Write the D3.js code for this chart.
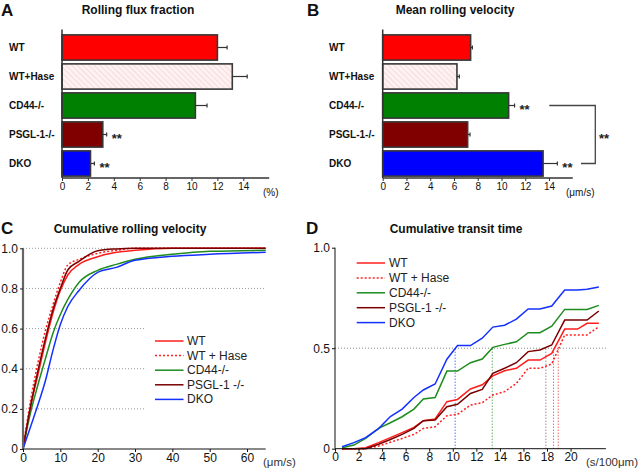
<!DOCTYPE html>
<html><head><meta charset="utf-8">
<script src="https://cdn.jsdelivr.net/npm/d3@7"></script>
<style>body{margin:0;background:#fff}svg{display:block;font-family:"Liberation Sans",Arial,sans-serif}</style>
</head><body>
<svg id="c" width="640" height="469"></svg>
<script>
// ---------- data ----------
const cats = ["WT","WT+Hase","CD44-/-","PSGL-1-/-","DKO"];
const fluxMean = [12.0,13.15,10.3,3.15,2.2];
const fluxErr  = [0.75,1.15,0.9,0.3,0.3];
const fluxStars = ["","","","**","**"];
const velMean = [7.4,6.25,10.6,7.15,13.5];
const velErr  = [0.15,0.2,0.5,0.2,1.2];
const velStars = ["","","**","","**"];
const barTicks = [0,2,4,6,8,10,12,14];

const seriesNames = ["WT","WT + Hase","CD44-/-","PSGL-1 -/-","DKO"];
const velX = [0,2,4,6,8,10,12,15,20,25,30,40,50,65];
const cWT   = [0,0.21,0.37,0.53,0.676,0.79,0.867,0.92,0.958,0.98,0.99,1.0,1.0,1.0];
const cHase = [0,0.24,0.43,0.59,0.717,0.83,0.917,0.945,0.975,0.99,1.0,1.0,1.0,1.0];
const cCD44 = [0,0.18,0.32,0.45,0.576,0.67,0.745,0.83,0.89,0.92,0.945,0.97,0.985,0.99];
const cPSGL = [0,0.21,0.39,0.55,0.693,0.8,0.892,0.935,0.988,0.997,1.0,1.0,1.0,1.0];
const cDKO  = [0,0.11,0.22,0.34,0.49,0.62,0.71,0.79,0.88,0.905,0.94,0.96,0.97,0.98];
const cYTicks = [0,0.2,0.4,0.6,0.8,1.0];
const cXTicks = [0,10,20,30,40,50,60];

const dX = [0.6,1.6,2.6,3.7,4.7,5.7,6.7,7.5,8.5,9.5,10.4,11.5,12.5,13.4,14.4,15.4,16.4,17.4,18.4,19.5,20.6,21.4,22.4];
const dWT   = [0,0,0.005,0.03,0.055,0.08,0.106,0.139,0.148,0.234,0.245,0.297,0.318,0.362,0.388,0.4,0.441,0.441,0.474,0.595,0.595,0.624,0.624];
const dHase = [0,0,0,0.013,0.032,0.051,0.071,0.101,0.109,0.164,0.171,0.217,0.229,0.267,0.284,0.325,0.4,0.4,0.421,0.566,0.566,0.566,0.607];
const dCD44 = [0.005,0.018,0.051,0.101,0.129,0.159,0.197,0.247,0.255,0.386,0.386,0.428,0.446,0.504,0.519,0.532,0.577,0.577,0.61,0.693,0.693,0.693,0.713];
const dPSGL = [0,0,0,0.022,0.046,0.071,0.101,0.139,0.143,0.209,0.221,0.275,0.295,0.375,0.4,0.428,0.483,0.491,0.516,0.64,0.64,0.64,0.685];
const dDKO  = [0.01,0.03,0.055,0.10,0.16,0.197,0.255,0.292,0.322,0.445,0.513,0.513,0.55,0.605,0.614,0.645,0.695,0.695,0.71,0.79,0.79,0.793,0.805];
const dMedian = [18.55,18.95,13.35,17.9,10.2];
const dYTicks = [0,0.5,1.0];
const dYLabels = ["0","0.5","1.0"];
const dXTicks = [0,2,4,6,8,10,12,14,16,18,20];

// ---------- styles ----------
const barFill = ["#ff0000","url(#hatch)","#008000","#800000","#0000ff"];
const lineCol = ["#ff1e1e","#ff1e1e","#1e8c1e","#7a0000","#1430ff"];
const lineDash = [null,"2,2",null,null,null];

const svg = d3.select("#c");
const defs = svg.append("defs");
const pat = defs.append("pattern").attr("id","hatch").attr("patternUnits","userSpaceOnUse")
  .attr("width",4).attr("height",4).attr("patternTransform","rotate(-45)");
pat.append("rect").attr("width",4).attr("height",4).attr("fill","#fdf1f1");
pat.append("line").attr("x1",0).attr("y1",0).attr("x2",0).attr("y2",4).attr("stroke","#efcfd0").attr("stroke-width",1.2);

function text(x,y,s,opt={}){
  return svg.append("text").attr("x",x).attr("y",y).text(s)
    .attr("font-size",opt.size||12).attr("font-weight",opt.bold?"bold":"normal")
    .attr("text-anchor",opt.anchor||"start").attr("fill",opt.fill||"#111")
    .attr("dominant-baseline",opt.mid?"central":"auto");
}

// ---------- bar panels ----------
function barPanel(x0, mean, err, stars, unit, letter, letterX, title, titleX, labX){
  const x = d3.scaleLinear().domain([0,16]).range([x0, x0+16*(unit)]);
  const y = d3.scaleBand().domain(cats).range([33,178]).paddingInner(0.13).paddingOuter(0.065);
  const g = svg.append("g");
  text(letterX,16,letter,{size:17,bold:true});
  text(titleX,14,title,{size:12,bold:true,anchor:"middle"});
  cats.forEach((c,i)=>{
    text(labX, y(c)+y.bandwidth()/2, c, {size:10,bold:true,mid:true});
  });
  g.selectAll("rect.bar").data(cats).join("rect")
    .attr("x",x(0)).attr("y",d=>y(d)).attr("width",(d,i)=>x(mean[i])-x(0))
    .attr("height",y.bandwidth()).attr("fill",(d,i)=>barFill[i])
    .attr("stroke","#383838").attr("stroke-width",1.6);
  cats.forEach((c,i)=>{
    const cy = y(c)+y.bandwidth()/2;
    g.append("line").attr("x1",x(mean[i])).attr("x2",x(mean[i]+err[i])).attr("y1",cy).attr("y2",cy)
      .attr("stroke","#333").attr("stroke-width",1.2);
    g.append("line").attr("x1",x(mean[i]+err[i])).attr("x2",x(mean[i]+err[i])).attr("y1",cy-2).attr("y2",cy+2)
      .attr("stroke","#333").attr("stroke-width",1.2);
    if(stars[i]) text(x(mean[i]+err[i])+5, cy+8, stars[i], {size:13,bold:true,fill:"#222"});
  });
  // axes
  g.append("line").attr("x1",x(0)).attr("x2",x(0)).attr("y1",29.5).attr("y2",178).attr("stroke","#333").attr("stroke-width",1.5);
  const ax = g.append("g").attr("transform","translate(0,178)")
    .call(d3.axisBottom(x).tickValues(barTicks).tickSize(3).tickFormat(d3.format("d")));
  ax.select(".domain").attr("stroke","#333").attr("stroke-width",1.5).attr("d",`M${x(0)},0H${x(16)}`);
  ax.selectAll(".tick line").attr("stroke","#333");
  ax.selectAll(".tick text").attr("font-size",10).attr("fill","#111").attr("font-family","Liberation Sans, Arial").attr("dy","0.6em");
  return {x,y,g};
}
barPanel(62, fluxMean, fluxErr, fluxStars, 12.95, "A", 1, "Rolling flux fraction", 138, 9);
text(263,196,"(%)",{size:10});
const B = barPanel(382.7, velMean, velErr, velStars, 11.88, "B", 307, "Mean rolling velocity", 455, 329);
text(566,196,"(μm/s)",{size:10});
// bracket between CD44 and DKO
{
  const yc = B.y("CD44-/-")+B.y.bandwidth()/2, yd = B.y("DKO")+B.y.bandwidth()/2;
  svg.append("path").attr("d",`M549.3,${yc}H595.3V${yd}H581`).attr("fill","none").attr("stroke","#444").attr("stroke-width",1.3);
  text(599, (yc+yd)/2+8, "**", {size:13,bold:true,fill:"#222"});
}

// ---------- panel C ----------
{
  const x = d3.scaleLinear().domain([0,65]).range([23,265.7]);
  const y = d3.scaleLinear().domain([0,1]).range([449,248.3]);
  text(1,234,"C",{size:17,bold:true});
  text(130,233,"Cumulative rolling velocity",{size:12,bold:true,anchor:"middle"});
  cYTicks.filter(v=>v>0).forEach(v=>{
    svg.append("line").attr("x1",x(0)).attr("x2",v>=0.8?x(65):146).attr("y1",y(v)).attr("y2",y(v))
      .attr("stroke","#999").attr("stroke-dasharray","1,2");
  });
  const series = [cWT,cHase,cCD44,cPSGL,cDKO];
  const line = d3.line().x((d,i)=>x(velX[i])).y(d=>y(d)).curve(d3.curveMonotoneX);
  series.forEach((s,i)=>{
    svg.append("path").datum(s).attr("d",line).attr("fill","none").attr("stroke",lineCol[i])
      .attr("stroke-width",1.5).attr("stroke-dasharray",lineDash[i]);
  });
  const ay = svg.append("g").attr("transform",`translate(${x(0)},0)`)
    .call(d3.axisLeft(y).tickValues(cYTicks).tickSize(3).tickFormat(d=>d===0?"0":d3.format(".1f")(d)));
  ay.select(".domain").attr("stroke","#666").attr("stroke-width",2.2).attr("d",`M0,${y(1)}V${y(0)}`);
  ay.selectAll(".tick line").attr("stroke","#222");
  ay.selectAll(".tick text").attr("font-size",12).attr("fill","#111").attr("font-family","Liberation Sans, Arial").attr("x",-5);
  const ax = svg.append("g").attr("transform",`translate(0,${y(0)})`)
    .call(d3.axisBottom(x).tickValues(cXTicks).tickSize(3));
  ax.select(".domain").attr("stroke","#111").attr("d",`M${x(0)},0H${x(65)}`);
  ax.selectAll(".tick line").attr("stroke","#111");
  ax.selectAll(".tick text").attr("font-size",12).attr("fill","#111").attr("font-family","Liberation Sans, Arial").attr("dy","0.55em");
  text(263,466,"(μm/s)",{size:11.5,fill:"#333"});
  // legend
  seriesNames.forEach((n,i)=>{
    const yy = 341 + i*14.6;
    svg.append("line").attr("x1",155).attr("x2",183.5).attr("y1",yy).attr("y2",yy)
      .attr("stroke",lineCol[i]).attr("stroke-width",1.5).attr("stroke-dasharray",lineDash[i]);
    text(187,yy,n,{size:12,mid:true,fill:"#222"});
  });
}

// ---------- panel D ----------
{
  const x = d3.scaleLinear().domain([0,23]).range([335,605.9]);
  const y = d3.scaleLinear().domain([0,1]).range([448.7,247.7]);
  text(306,234,"D",{size:17,bold:true});
  text(456,233,"Cumulative transit time",{size:12,bold:true,anchor:"middle"});
  svg.append("line").attr("x1",x(0)).attr("x2",x(23)).attr("y1",y(0.5)).attr("y2",y(0.5))
    .attr("stroke","#888").attr("stroke-dasharray","1,2");
  const series = [dWT,dHase,dCD44,dPSGL,dDKO];
  dMedian.forEach((m,i)=>{
    svg.append("line").attr("x1",x(m)).attr("x2",x(m)).attr("y1",y(0)).attr("y2",y(0.5))
      .attr("stroke",i===3?"#775555":lineCol[i]).attr("stroke-dasharray","1,2").attr("stroke-width",1);
  });
  const line = d3.line().x((d,i)=>x(dX[i])).y(d=>y(d));
  series.forEach((s,i)=>{
    svg.append("path").datum(s).attr("d",line).attr("fill","none").attr("stroke",lineCol[i])
      .attr("stroke-width",1.5).attr("stroke-dasharray",lineDash[i]);
  });
  const ay = svg.append("g").attr("transform",`translate(${x(0)},0)`)
    .call(d3.axisLeft(y).tickValues(dYTicks).tickSize(3).tickFormat((d,i)=>dYLabels[i]));
  ay.select(".domain").attr("stroke","#111").attr("d",`M0,${y(1)}V${y(0)}`);
  ay.selectAll(".tick line").attr("stroke","#111");
  ay.selectAll(".tick text").attr("font-size",12).attr("fill","#111").attr("font-family","Liberation Sans, Arial").attr("x",-5);
  const ax = svg.append("g").attr("transform",`translate(0,${y(0)})`)
    .call(d3.axisBottom(x).tickValues(dXTicks).tickSize(3));
  ax.select(".domain").attr("stroke","#111").attr("d",`M${x(0)},0H${x(23)}`);
  ax.selectAll(".tick line").attr("stroke","#111");
  ax.selectAll(".tick text").attr("font-size",12).attr("fill","#111").attr("font-family","Liberation Sans, Arial").attr("dy","0.55em");
  text(586,466,"(s/100μm)",{size:11.5,fill:"#333"});
  seriesNames.forEach((n,i)=>{
    const yy = 263 + i*14.9;
    svg.append("line").attr("x1",356.7).attr("x2",385).attr("y1",yy).attr("y2",yy)
      .attr("stroke",lineCol[i]).attr("stroke-width",1.5).attr("stroke-dasharray",lineDash[i]);
    text(389,yy,n,{size:12,mid:true,fill:"#222"});
  });
}
</script>
</body></html>
